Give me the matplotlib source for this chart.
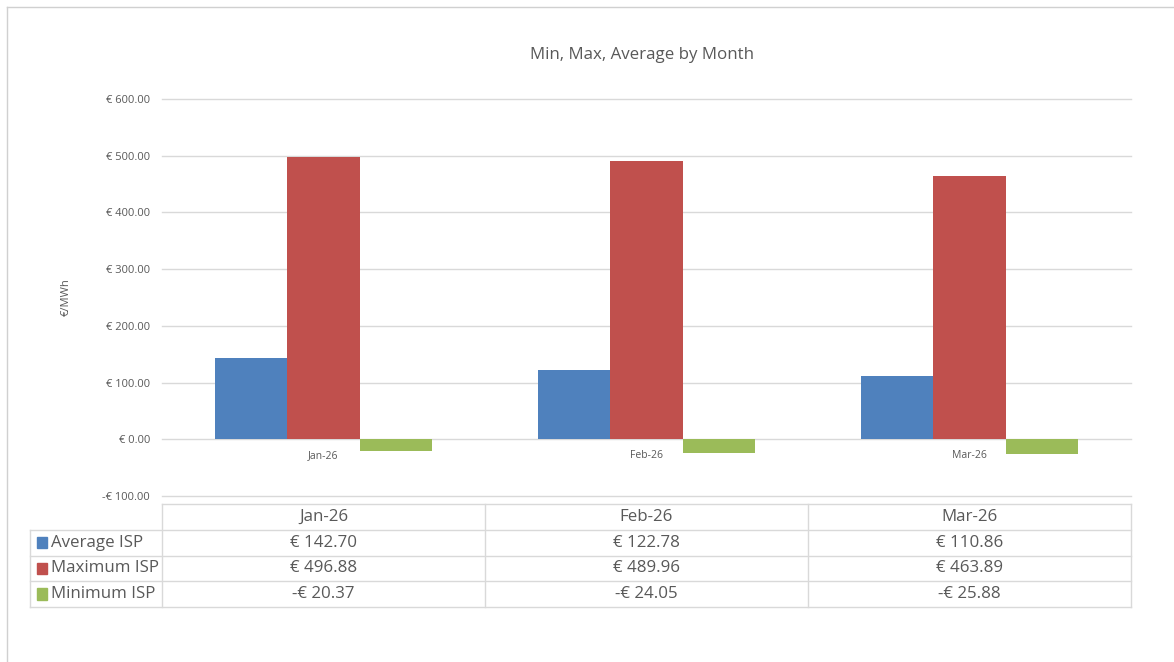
import matplotlib
matplotlib.use("Agg")
import matplotlib.pyplot as plt
from matplotlib.lines import Line2D
from matplotlib.patches import Rectangle
import numpy as np

months = ["Jan-26", "Feb-26", "Mar-26"]
series_names = ["Average ISP", "Maximum ISP", "Minimum ISP"]
average_isp = [142.70, 122.78, 110.86]
maximum_isp = [496.88, 489.96, 463.89]
minimum_isp = [-20.37, -24.05, -25.88]
y_ticks = [-100, 0, 100, 200, 300, 400, 500, 600]
colors = ["#4F81BD", "#C0504D", "#9BBB59"]

plt.rcParams['font.family'] = ['Open Sans', 'DejaVu Sans']
TXT = "#595959"
GRID = "#D9D9D9"

W, H = 1174, 662
fig = plt.figure(figsize=(W / 100, H / 100), dpi=100)
fig.patch.set_facecolor("white")

# outer chart border (left and top visible)
fig.add_artist(Line2D([7 / W, 7 / W], [0, 1 - 7 / H], color="#D0D0D0", lw=1))
fig.add_artist(Line2D([7 / W, 1], [1 - 7 / H, 1 - 7 / H], color="#D0D0D0", lw=1))

x0, x1 = 162, 1131
ytop, ybot = 99, 496
ax = fig.add_axes([x0 / W, 1 - ybot / H, (x1 - x0) / W, (ybot - ytop) / H])

x = np.arange(len(months))
bw = 0.223
data = [average_isp, maximum_isp, minimum_isp]
for i, (vals, c) in enumerate(zip(data, colors)):
    ax.bar(x + (i - 1) * bw, vals, width=bw, color=c, zorder=3)

ax.set_xlim(-0.5, len(months) - 0.5)
ax.set_ylim(y_ticks[0], y_ticks[-1])
ax.set_yticks(y_ticks)

def fmt(v):
    return ("-€ %.2f" % abs(v)) if v < 0 else ("€ %.2f" % v)

ax.set_yticklabels([fmt(v) for v in y_ticks], fontsize=8, color=TXT)
ax.tick_params(axis='y', length=0, pad=8.5)
ax.set_xticks([])
for s in ax.spines.values():
    s.set_visible(False)
ax.yaxis.grid(True, color=GRID, lw=1, zorder=0)
for gl in ax.get_ygridlines():
    gl.set_clip_on(False)
ax.set_axisbelow(True)

for i, m in enumerate(months):
    ax.annotate(m, (i, 0), xytext=(0, -11.5), textcoords="offset points",
                ha="center", va="center", fontsize=7.5, color=TXT, zorder=4)

ax.set_ylabel("€/MWh", fontsize=8, color=TXT, labelpad=22)
fig.text(642 / W, 1 - 55 / H, "Min, Max, Average by Month", ha="center", va="center",
         fontsize=12.2, color=TXT)

# data table
ttop, tbot = 504, 607
tax = fig.add_axes([x0 / W, 1 - tbot / H, (x1 - x0) / W, (tbot - ttop) / H])
tax.set_xlim(-0.5, len(months) - 0.5)
tax.set_ylim(4, 0)
tax.axis("off")
leg_left = -0.5 - (x0 - 30) / ((x1 - x0) / len(months))
lc = "#D9D9D9"
kw = dict(color=lc, lw=1, clip_on=False)
tax.plot([-0.5, 2.5], [0, 0], **kw)
for r in [1, 2, 3, 4]:
    tax.plot([leg_left, 2.5], [r, r], **kw)
tax.plot([leg_left, leg_left], [1, 4], **kw)
for c in range(len(months) + 1):
    tax.plot([c - 0.5, c - 0.5], [0, 4], **kw)

FS = 12.2
for i, m in enumerate(months):
    tax.text(i, 0.5, m, ha="center", va="center", fontsize=FS, color=TXT)
for r, (name, vals, c) in enumerate(zip(series_names, data, colors)):
    yy = r + 1.5
    tax.add_patch(Rectangle((leg_left + 0.022, yy - 0.22), 0.031, 0.44, color=c, clip_on=False))
    tax.text(leg_left + 0.066, yy, name, ha="left", va="center", fontsize=FS, color=TXT)
    for i, v in enumerate(vals):
        tax.text(i, yy, fmt(v), ha="center", va="center", fontsize=FS, color=TXT)

fig.savefig("out.png", dpi=100)
